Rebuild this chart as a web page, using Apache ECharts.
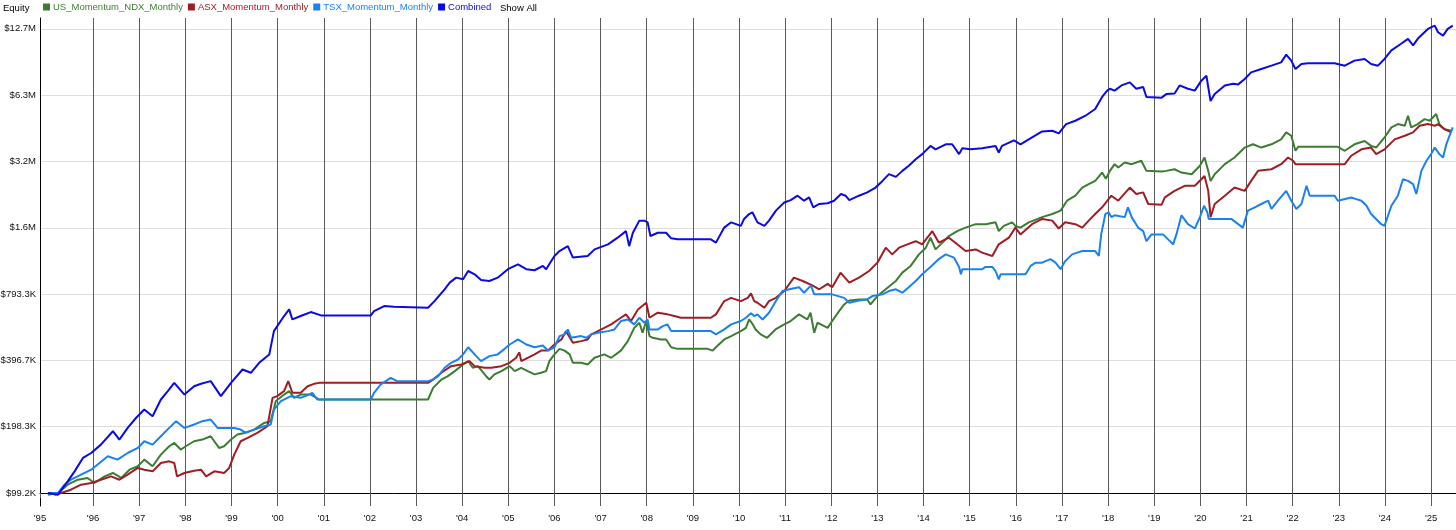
<!DOCTYPE html>
<html>
<head>
<meta charset="utf-8">
<script src="https://cdn.jsdelivr.net/npm/echarts@6/dist/echarts.min.js"></script>
<style>
html,body{margin:0;padding:0;background:#fff;}
#chart{width:1456px;height:530px;}
</style>
</head>
<body>
<div id="chart"></div>
<script>
// ---- data (values in thousands of dollars, x in fractional years) ----
const seriesNames = ['US_Momentum_NDX_Monthly', 'ASX_Momentum_Monthly', 'TSX_Momentum_Monthly', 'Combined'];

const usNdx = [[1995.02,97.5],[1995.24,99.2],[1995.45,108.2],[1995.67,114.0],[1995.88,116.1],[1996.03,110.1],[1996.25,118.0],[1996.43,122.3],[1996.61,116.1],[1996.79,126.6],[1996.97,131.2],[1997.11,140.6],[1997.29,131.2],[1997.47,148.1],[1997.65,161.7],[1997.76,167.4],[1997.90,156.2],[1998.01,161.7],[1998.19,170.4],[1998.37,173.4],[1998.55,179.5],[1998.73,158.9],[1998.84,161.7],[1998.99,173.4],[1999.13,182.7],[1999.28,185.9],[1999.49,192.5],[1999.71,206.4],[1999.85,210.2],[1999.96,259],[2000.14,277.6],[2000.25,287.6],[2000.36,268.2],[2000.50,277.6],[2000.72,277.6],[2000.90,263.6],[2003.26,263.6],[2003.37,297.8],[2003.55,324.8],[2003.69,336.4],[2003.84,354.6],[2004.02,380.2],[2004.13,393.6],[2004.23,367.2],[2004.34,373.6],[2004.52,336.4],[2004.59,324.8],[2004.70,342.8],[2004.85,354.6],[2005.03,373.6],[2005.14,354.6],[2005.28,367.2],[2005.42,354.6],[2005.57,342.8],[2005.71,348.6],[2005.82,354.6],[2005.89,393.6],[2006.00,422.4],[2006.11,447.6],[2006.22,439.6],[2006.33,422.4],[2006.40,386.8],[2006.58,386.8],[2006.72,380.2],[2006.87,407.6],[2007.08,422.4],[2007.23,407.6],[2007.44,439.6],[2007.59,485.2],[2007.73,557.2],[2007.84,588.4],[2007.91,529.6],[2007.99,598.8],[2008.06,511.6],[2008.13,502.4],[2008.31,494],[2008.42,494],[2008.53,455.2],[2008.67,447.6],[2009.32,447.6],[2009.43,439.6],[2009.54,463.2],[2009.68,494],[2009.83,511.6],[2010.04,538.8],[2010.15,557.2],[2010.22,608.8],[2010.30,578],[2010.36,548.4],[2010.47,520.8],[2010.61,502.4],[2010.79,548.4],[2010.98,578],[2011.12,598.8],[2011.30,642],[2011.48,608.8],[2011.55,653.2],[2011.63,529.6],[2011.70,588.4],[2011.92,557.2],[2012.02,598.8],[2012.17,664],[2012.28,712],[2012.39,742.4],[2012.60,750.4],[2012.78,750.4],[2012.85,712],[2013.00,777.2],[2013.18,834.4],[2013.40,910],[2013.54,993],[2013.72,1065],[2013.90,1202],[2014.05,1289],[2014.15,1431],[2014.26,1266],[2014.41,1359],[2014.55,1456],[2014.73,1532],[2014.91,1590],[2015.13,1648],[2015.35,1648],[2015.56,1680],[2015.63,1532],[2015.74,1618],[2015.92,1680],[2015.99,1618],[2016.10,1590],[2016.28,1680],[2016.57,1774],[2016.79,1832],[2016.97,1899],[2017.11,2106],[2017.29,2219],[2017.44,2416],[2017.58,2504],[2017.72,2590],[2017.87,2827],[2017.95,2650],[2018.04,2877],[2018.14,3086],[2018.22,2981],[2018.36,3141],[2018.51,3086],[2018.72,3197],[2018.83,2877],[2019.16,2856],[2019.26,2877],[2019.44,2926],[2019.59,2827],[2019.81,2779],[2019.99,3034],[2020.09,3309],[2020.17,2877],[2020.22,2590],[2020.31,2779],[2020.53,3086],[2020.74,3309],[2020.96,3670],[2021.14,3798],[2021.32,3670],[2021.54,3798],[2021.75,4000],[2021.86,4301],[2021.97,4154],[2022.06,3549],[2022.12,3699],[2022.98,3699],[2023.13,3549],[2023.34,3798],[2023.56,3930],[2023.70,3734],[2023.81,3670],[2023.99,4080],[2024.14,4531],[2024.28,4691],[2024.43,4611],[2024.50,5120],[2024.57,4531],[2024.71,4691],[2024.86,4941],[2024.97,4858],[2025.11,5210],[2025.18,4691],[2025.29,4448],[2025.44,4374]];

const asx = [[1995.16,97.5],[1995.31,99.2],[1995.52,102.7],[1995.74,108.2],[1995.96,110.1],[1996.17,114.0],[1996.39,118.0],[1996.57,114.0],[1996.75,120.2],[1996.97,128.9],[1997.11,126.6],[1997.29,124.4],[1997.47,135.8],[1997.65,138.1],[1997.76,135.8],[1997.82,118.0],[1997.98,122.3],[1998.19,125.3],[1998.34,126.6],[1998.45,118.0],[1998.63,124.4],[1998.84,122.3],[1998.95,128.9],[1999.06,148.1],[1999.20,170.4],[1999.35,176.4],[1999.56,185.9],[1999.78,199.3],[1999.89,268.2],[1999.99,273.0],[2000.14,287.6],[2000.23,319.4],[2000.32,282.8],[2000.50,282.8],[2000.65,302.8],[2000.79,310.6],[2000.90,313.7],[2003.26,313.7],[2003.37,324.8],[2003.55,348.6],[2003.76,373.6],[2003.98,380.2],[2004.16,393.6],[2004.27,373.6],[2004.49,367.2],[2004.63,367.2],[2004.85,373.6],[2005.03,386.8],[2005.17,407.6],[2005.24,431.6],[2005.28,393.6],[2005.42,407.6],[2005.57,422.4],[2005.71,439.6],[2005.86,439.6],[2006.00,468.4],[2006.15,494],[2006.25,538.8],[2006.40,476.8],[2006.58,485.2],[2006.72,494],[2006.80,520.8],[2006.94,538.8],[2007.08,557.2],[2007.23,578],[2007.44,619.6],[2007.55,642],[2007.66,598.8],[2007.81,676],[2007.99,724.8],[2008.06,619.6],[2008.24,653.2],[2008.45,642],[2008.60,630.8],[2008.74,619.6],[2009.39,619.6],[2009.50,642],[2009.68,737.6],[2009.83,762.8],[2010.04,737.6],[2010.19,762.8],[2010.26,800],[2010.33,737.6],[2010.40,724.8],[2010.55,688],[2010.65,737.6],[2010.80,762.8],[2010.98,819.2],[2011.19,942],[2011.38,910],[2011.59,869],[2011.74,834.4],[2011.92,883],[2012.02,853],[2012.20,993],[2012.39,894.4],[2012.60,942],[2012.82,1010],[2013.00,1102],[2013.18,1289],[2013.32,1202],[2013.47,1289],[2013.65,1335],[2013.83,1379],[2013.97,1335],[2014.19,1532],[2014.33,1359],[2014.55,1431],[2014.73,1335],[2014.91,1244],[2015.13,1266],[2015.27,1224],[2015.49,1182],[2015.63,1335],[2015.85,1431],[2015.99,1590],[2016.10,1481],[2016.35,1648],[2016.57,1741],[2016.79,1710],[2016.93,1575],[2017.07,1680],[2017.29,1648],[2017.44,1590],[2017.58,1710],[2017.72,1832],[2017.87,1966],[2018.01,2142],[2018.07,2219],[2018.22,2106],[2018.47,2416],[2018.61,2259],[2018.76,2298],[2018.87,2035],[2019.16,2021],[2019.23,2179],[2019.44,2334],[2019.66,2461],[2019.88,2461],[2020.02,2635],[2020.09,2728],[2020.17,2334],[2020.22,1774],[2020.31,2035],[2020.53,2219],[2020.74,2416],[2020.96,2334],[2021.10,2590],[2021.25,2877],[2021.54,2926],[2021.75,3086],[2021.90,3309],[2022.01,3197],[2022.06,3086],[2023.13,3086],[2023.27,3370],[2023.49,3603],[2023.70,3670],[2023.81,3427],[2023.99,3603],[2024.21,4000],[2024.43,4154],[2024.61,4301],[2024.75,4611],[2024.93,4691],[2025.08,4611],[2025.15,4691],[2025.29,4448],[2025.44,4301]];

const tsx = [[1995.02,99.2],[1995.24,99.2],[1995.38,108.2],[1995.52,114.0],[1995.74,120.2],[1995.96,126.6],[1996.14,135.8],[1996.32,145.6],[1996.53,140.6],[1996.75,150.7],[1996.97,158.9],[1997.11,170.4],[1997.29,164.5],[1997.47,179.5],[1997.65,195.9],[1997.80,210.2],[1997.98,195.9],[1998.19,203],[1998.37,210.2],[1998.55,213.8],[1998.70,195.9],[1999.06,195.9],[1999.20,192.5],[1999.31,185.9],[1999.49,192.5],[1999.71,199.3],[1999.85,203],[1999.92,237.3],[2000.07,259],[2000.29,273.0],[2000.50,268.2],[2000.68,277.6],[2000.75,282.8],[2000.86,263.6],[2002.02,263.6],[2002.09,282.8],[2002.23,308.2],[2002.45,330.4],[2002.59,319.4],[2003.26,319.4],[2003.37,324.8],[2003.48,336.4],[2003.62,367.2],[2003.76,386.8],[2003.91,400.4],[2004.02,422.4],[2004.13,455.2],[2004.27,422.4],[2004.41,393.6],[2004.59,414.8],[2004.77,422.4],[2004.92,447.6],[2005.03,468.4],[2005.21,494],[2005.39,468.4],[2005.57,455.2],[2005.75,463.2],[2005.86,439.6],[2006.00,455.2],[2006.11,511.6],[2006.22,520.8],[2006.29,548.4],[2006.36,502.4],[2006.58,511.6],[2006.69,502.4],[2006.80,520.8],[2006.94,529.6],[2007.16,538.8],[2007.30,548.4],[2007.44,598.8],[2007.59,608.8],[2007.73,578],[2007.84,619.6],[2007.95,588.4],[2008.02,608.8],[2008.06,548.4],[2008.24,548.4],[2008.35,568],[2008.45,578],[2008.53,538.8],[2009.39,538.8],[2009.50,520.8],[2009.68,548.4],[2009.83,578],[2010.04,598.8],[2010.15,619.6],[2010.26,650],[2010.33,630.8],[2010.40,642],[2010.51,608.8],[2010.65,653.2],[2010.80,737.6],[2010.94,819.2],[2011.09,834.4],[2011.30,853],[2011.41,804.8],[2011.56,869],[2011.63,791.2],[2012.02,791.2],[2012.28,762.8],[2012.39,724.8],[2012.60,742.4],[2012.78,750.4],[2012.89,777.2],[2013.11,791.2],[2013.25,819.2],[2013.40,834.4],[2013.54,804.8],[2013.68,853],[2013.83,910],[2013.97,976],[2014.15,1054],[2014.33,1144],[2014.48,1202],[2014.66,1162],[2014.77,1054],[2014.81,976],[2014.84,1029],[2015.27,1029],[2015.34,1054],[2015.49,1054],[2015.56,1010],[2015.63,926],[2015.67,976],[2016.21,976],[2016.32,1065],[2016.43,1102],[2016.57,1102],[2016.75,1144],[2016.86,1102],[2016.97,1029],[2017.07,1120],[2017.22,1202],[2017.33,1224],[2017.44,1244],[2017.72,1244],[2017.80,1182],[2017.85,1481],[2017.94,1832],[2018.01,1866],[2018.07,1774],[2018.14,1808],[2018.36,1774],[2018.43,1966],[2018.51,1774],[2018.65,1590],[2018.76,1532],[2018.83,1379],[2018.94,1481],[2019.19,1481],[2019.30,1406],[2019.41,1335],[2019.48,1481],[2019.59,1808],[2019.73,1648],[2019.88,1575],[2019.99,1774],[2020.08,1998],[2020.15,1866],[2020.18,1741],[2020.67,1741],[2020.82,1648],[2020.92,1590],[2021.03,1899],[2021.18,1966],[2021.32,2035],[2021.47,2106],[2021.54,1933],[2021.68,2106],[2021.86,2334],[2021.97,2106],[2022.08,1933],[2022.19,2035],[2022.30,2461],[2022.37,2219],[2022.91,2219],[2022.98,2106],[2023.27,2179],[2023.38,2142],[2023.49,2106],[2023.60,1998],[2023.70,1832],[2023.92,1648],[2023.99,1618],[2024.14,1998],[2024.28,2219],[2024.39,2635],[2024.50,2590],[2024.61,2504],[2024.68,2259],[2024.79,2877],[2024.90,3197],[2025.00,3427],[2025.08,3670],[2025.18,3427],[2025.26,3309],[2025.33,3798],[2025.40,4154],[2025.47,4531]];

const combined = [[1995.02,99.2],[1995.24,97.5],[1995.45,112.0],[1995.60,124.4],[1995.78,143.1],[1995.96,150.7],[1996.17,164.5],[1996.43,189.2],[1996.57,173.4],[1996.75,195.9],[1996.93,217.3],[1997.11,237.3],[1997.29,221.2],[1997.47,263.6],[1997.62,287.6],[1997.76,313.7],[1997.98,277.6],[1998.19,302.8],[1998.34,310.6],[1998.55,319.4],[1998.77,273.0],[1998.99,313.7],[1999.24,360.8],[1999.42,348.6],[1999.60,386.8],[1999.82,422.4],[1999.92,538.8],[2000.14,630.8],[2000.25,676],[2000.32,608.8],[2000.50,630.8],[2000.72,657.6],[2000.94,635],[2002.02,635],[2002.09,664],[2002.31,700],[2002.52,695],[2003.26,688],[2003.40,737.6],[2003.62,834.4],[2003.73,894.4],[2003.87,942.4],[2004.02,926],[2004.13,1010],[2004.27,976],[2004.41,920],[2004.59,910],[2004.77,942],[2004.99,1029],[2005.21,1083],[2005.39,1029],[2005.57,1018],[2005.75,1065],[2005.82,1029],[2006.00,1182],[2006.11,1244],[2006.29,1310],[2006.40,1162],[2006.72,1182],[2006.87,1266],[2007.16,1335],[2007.37,1431],[2007.55,1532],[2007.62,1310],[2007.70,1506],[2007.84,1710],[2007.95,1710],[2008.02,1680],[2008.08,1456],[2008.24,1506],[2008.42,1506],[2008.53,1421],[2008.67,1406],[2009.39,1406],[2009.50,1359],[2009.68,1590],[2009.83,1680],[2010.04,1618],[2010.11,1741],[2010.22,1832],[2010.29,1866],[2010.40,1680],[2010.55,1618],[2010.65,1710],[2010.80,1899],[2010.98,2067],[2011.12,2120],[2011.27,2219],[2011.41,2106],[2011.52,2179],[2011.61,1966],[2011.74,2035],[2011.92,2051],[2012.06,2106],[2012.21,2259],[2012.31,2219],[2012.39,2120],[2012.60,2219],[2012.78,2298],[2012.96,2416],[2013.11,2590],[2013.25,2779],[2013.40,2702],[2013.54,2877],[2013.68,3034],[2013.83,3251],[2013.97,3427],[2014.15,3734],[2014.26,3603],[2014.48,3798],[2014.62,3798],[2014.77,3427],[2014.84,3642],[2015.02,3603],[2015.27,3642],[2015.56,3734],[2015.63,3488],[2015.70,3734],[2015.96,3958],[2016.10,3798],[2016.28,4000],[2016.57,4346],[2016.79,4374],[2016.93,4256],[2017.09,4691],[2017.29,4858],[2017.51,5120],[2017.72,5491],[2017.87,6227],[2017.98,6656],[2018.04,6784],[2018.14,6656],[2018.29,7027],[2018.47,7258],[2018.61,6784],[2018.76,6912],[2018.83,6227],[2019.16,6186],[2019.26,6419],[2019.44,6464],[2019.55,7027],[2019.73,6784],[2019.88,6656],[2020.02,7386],[2020.13,7782],[2020.17,6912],[2020.22,5974],[2020.31,6419],[2020.53,7027],[2020.71,7155],[2020.82,7104],[2020.96,7514],[2021.10,8051],[2021.32,8339],[2021.54,8640],[2021.75,8947],[2021.86,9696],[2021.97,9107],[2022.06,8339],[2022.19,8794],[2022.33,8858],[2022.91,8858],[2023.13,8640],[2023.34,9107],[2023.56,9267],[2023.70,8794],[2023.85,8640],[2023.99,9267],[2024.14,10131],[2024.35,10861],[2024.50,11437],[2024.61,10675],[2024.71,11437],[2024.93,12685],[2025.08,13133],[2025.15,12250],[2025.26,11827],[2025.36,12685],[2025.47,13133]];

// y ticks: doubling levels (thousands of dollars) and their labels
const yTickValuesK = [99.165, 198.33, 396.66, 793.32, 1586.64, 3173.28, 6346.56, 12693.12];
const yTickLabels = ['$99.2K', '$198.3K', '$396.7K', '$793.3K', '$1.6M', '$3.2M', '$6.3M', '$12.7M'];
const yRangeK = [86.6, 14220];

// x ticks: first label sits at the axis start
const xRange = [1994.85, 2025.54];
const xTickValues = [1994.85, 1996, 1997, 1998, 1999, 2000, 2001, 2002, 2003, 2004, 2005, 2006, 2007, 2008, 2009, 2010, 2011, 2012, 2013, 2014, 2015, 2016, 2017, 2018, 2019, 2020, 2021, 2022, 2023, 2024, 2025];
const xTickLabels = ["'95", "'96", "'97", "'98", "'99", "'00", "'01", "'02", "'03", "'04", "'05", "'06", "'07", "'08", "'09", "'10", "'11", "'12", "'13", "'14", "'15", "'16", "'17", "'18", "'19", "'20", "'21", "'22", "'23", "'24", "'25"];

// ---- chart ----
const colors = ['#3c7d32', '#a01e23', '#1a82f0', '#0a0ae6'];
const FONT = '"Liberation Sans", Arial, sans-serif';
const FS = 9.5;
const BASE = yTickValuesK[0];
const toY = v => Math.log2(v / BASE);
const yTicks = yTickValuesK.map(toY);

function findIdx(arr, v) {
  for (let i = 0; i < arr.length; i++) if (Math.abs(arr[i] - v) < 1e-6) return i;
  return -1;
}

const raw = [usNdx, asx, tsx, combined];
const chart = echarts.init(document.getElementById('chart'), null, {renderer: 'canvas'});
chart.setOption({
  animation: false,
  backgroundColor: '#fff',
  textStyle: {fontFamily: FONT},
  graphic: [
    {type: 'text', left: 3, top: 3, style: {text: 'Equity', fill: '#000', font: FS + 'px ' + FONT}},
    {type: 'text', left: 500, top: 3, style: {text: 'Show All', fill: '#000', font: FS + 'px ' + FONT}}
  ],
  legend: {
    left: 43, top: 2, itemWidth: 7, itemHeight: 7, itemGap: 5, icon: 'rect', padding: 0,
    data: seriesNames.map((n, i) => ({name: n, textStyle: {color: colors[i]}})),
    textStyle: {fontSize: FS, fontFamily: FONT, padding: [0, 0, 0, -2]}
  },
  grid: {left: 40, right: 0, top: 18, bottom: 24, containLabel: false, outerBoundsMode: 'none'},
  xAxis: {
    type: 'value', min: xRange[0], max: xRange[1],
    axisLine: {show: true, lineStyle: {color: '#000', width: 1}},
    axisTick: {show: true, customValues: xTickValues, length: 5, lineStyle: {color: '#5a5a5a'}},
    splitLine: {show: true, lineStyle: {color: '#5a5a5a', width: 1}},
    axisLabel: {
      customValues: xTickValues, margin: 7, fontSize: FS, color: '#111', fontFamily: FONT,
      formatter: v => { const i = findIdx(xTickValues, v); return i >= 0 ? xTickLabels[i] : ''; }
    }
  },
  yAxis: {
    type: 'value', min: toY(yRangeK[0]), max: toY(yRangeK[1]),
    axisLine: {show: true, lineStyle: {color: '#000', width: 1}},
    axisTick: {show: false, customValues: yTicks},
    splitLine: {show: true, lineStyle: {color: '#dedede', width: 1}},
    axisLabel: {
      customValues: yTicks, margin: 4, fontSize: FS, color: '#111', fontFamily: FONT,
      formatter: v => { const i = findIdx(yTicks, v); return i >= 0 ? yTickLabels[i] : ''; }
    }
  },
  series: raw.map((d, i) => ({
    name: seriesNames[i],
    type: 'line',
    showSymbol: false,
    symbol: 'none',
    color: colors[i],
    lineStyle: {width: 2, color: colors[i]},
    data: d.map(p => [p[0], toY(p[1])]),
    z: 2 + i
  }))
});
</script>
</body>
</html>
